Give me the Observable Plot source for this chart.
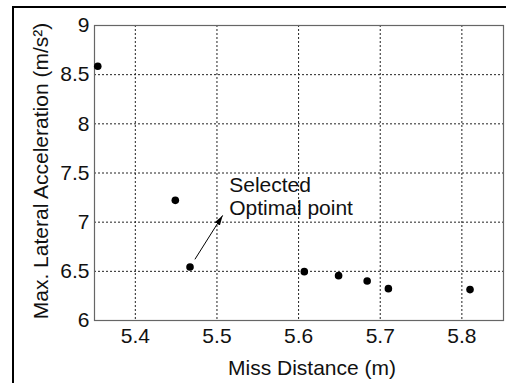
<!DOCTYPE html>
<html>
<head>
<meta charset="utf-8">
<script src="https://cdn.jsdelivr.net/npm/d3@7"></script>
<script src="https://cdn.jsdelivr.net/npm/@observablehq/plot@0.6"></script>
<style>
  html, body { margin: 0; padding: 0; background: #fff; }
  #wrap { position: relative; width: 506px; height: 383px; overflow: hidden; }
  #border { position: absolute; left: 12px; top: 6px; right: -10px; bottom: -10px;
            border-left: 2px solid #000; border-top: 2px solid #000; pointer-events: none; }
</style>
</head>
<body>
<div id="wrap"><div id="border"></div></div>
<script>
// Data
const missDistance = [5.354, 5.449, 5.467, 5.607, 5.649, 5.684, 5.710, 5.810];
const maxLatAccel  = [8.586, 7.222, 6.544, 6.497, 6.456, 6.401, 6.324, 6.314];

const xTicks = [5.4, 5.5, 5.6, 5.7, 5.8];
const xTickLabels = ["5.4", "5.5", "5.6", "5.7", "5.8"];
const yTicks = [6, 6.5, 7, 7.5, 8, 8.5, 9];
const yTickLabels = ["6", "6.5", "7", "7.5", "8", "8.5", "9"];

const xLabel = "Miss Distance (m)";
const yLabel = "Max. Lateral Acceleration (m/s\u00B2)";

// Annotation
const annotText = ["Selected\nOptimal point"];
const annotX = [5.515];
const annotY = [7.476];
const arrowFrom = [{x: 5.473, y: 6.622}];
const arrowTo = [{x: 5.507, y: 7.069}];

const points = missDistance.map((x, i) => ({x, y: maxLatAccel[i]}));
const arrowData = arrowFrom.map((a, i) => ({x1: a.x, y1: a.y, x2: arrowTo[i].x, y2: arrowTo[i].y}));
const annotData = annotText.map((t, i) => ({t, x: annotX[i], y: annotY[i]}));

function filledArrow(color) {
  const m = d3.create("svg:marker")
    .attr("viewBox", "-10 -5 10 10")
    .attr("markerWidth", 10)
    .attr("markerHeight", 10)
    .attr("markerUnits", "userSpaceOnUse")
    .attr("refX", 0).attr("refY", 0)
    .attr("orient", "auto")
    .attr("fill", "#000")
    .attr("stroke", "none");
  m.append("path").attr("d", "M-10,-3L0,0L-10,3Z");
  return m.node();
}

const fmtX = new Map(xTicks.map((t, i) => [t, xTickLabels[i]]));
const fmtY = new Map(yTicks.map((t, i) => [t, yTickLabels[i]]));

const chart = Plot.plot({
  width: 506,
  height: 383,
  marginLeft: 94,
  marginRight: 3,
  marginTop: 25,
  marginBottom: 63,
  style: {fontFamily: "'Liberation Sans', Arial, sans-serif", background: "transparent", color: "#111"},
  x: {domain: [5.35, 5.851]},
  y: {domain: [6, 9]},
  marks: [
    Plot.gridX(xTicks, {stroke: "#222", strokeOpacity: 1, strokeDasharray: "2,2", strokeWidth: 1}),
    Plot.gridY(yTicks, {stroke: "#222", strokeOpacity: 1, strokeDasharray: "2,2", strokeWidth: 1}),
    Plot.frame({stroke: "#666", strokeWidth: 1.2}),
    Plot.axisX(xTicks, {tickSize: 0, tickPadding: 8, fontSize: 21, tickFormat: d => fmtX.get(d), label: null}),
    Plot.axisY(yTicks, {tickSize: 0, tickPadding: 5, fontSize: 21, tickFormat: d => fmtY.get(d), label: null}),
    Plot.text([xLabel], {frameAnchor: "bottom", text: d => d, dy: 54, dx: 13, lineAnchor: "bottom", fontSize: 21, fill: "#111"}),
    Plot.text([yLabel], {frameAnchor: "left", text: d => d, rotate: -90, dx: -47, dy: -2, textAnchor: "middle", lineAnchor: "bottom", fontSize: 21, fill: "#111"}),
    Plot.dot(points, {x: "x", y: "y", r: 3.8, fill: "#000", stroke: "none"}),
    Plot.link(arrowData, {x1: "x1", y1: "y1", x2: "x2", y2: "y2", stroke: "#000", strokeWidth: 1, markerEnd: filledArrow}),
    Plot.text(annotData, {x: "x", y: "y", text: "t", textAnchor: "start", lineAnchor: "top", lineHeight: 1.1, fontSize: 21, fill: "#111"})
  ]
});

document.getElementById("wrap").prepend(chart);
</script>
</body>
</html>
